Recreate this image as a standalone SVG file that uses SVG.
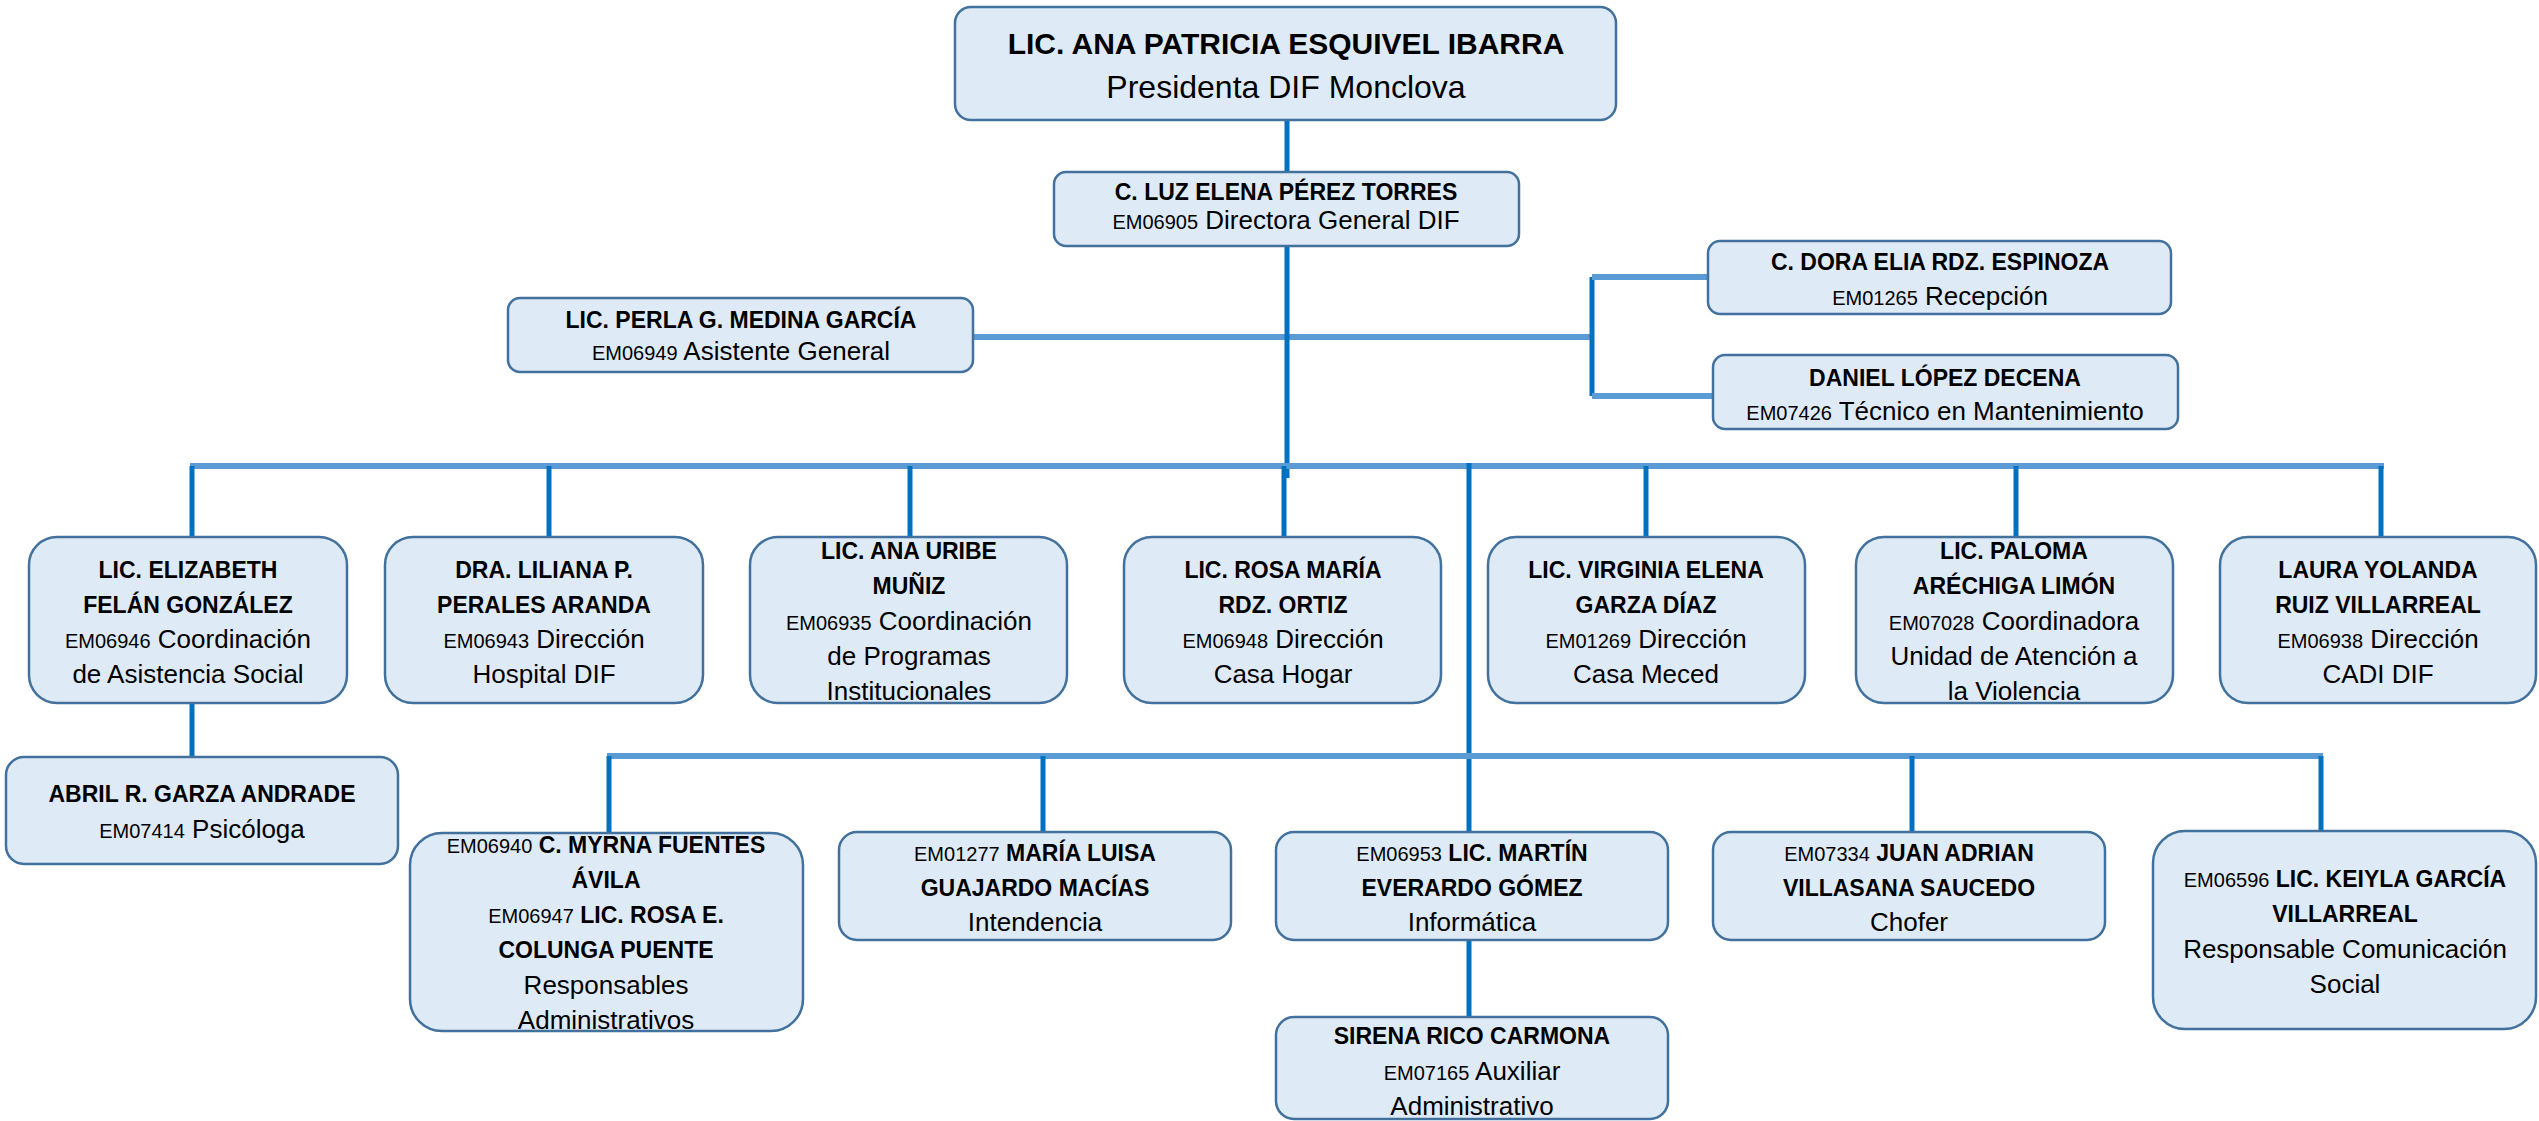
<svg xmlns="http://www.w3.org/2000/svg" width="2539" height="1121" viewBox="0 0 2539 1121">
<style>
.b{fill:#DEEAF6;stroke:#41719C;stroke-width:2.5}
text{font-family:"Liberation Sans",Arial,sans-serif;text-anchor:middle;fill:#000}
.n{font-weight:bold;font-size:23px}
.r{font-size:26px}
.c{font-size:20px;font-weight:normal}
.h{stroke:#5B9BD5;stroke-width:6;fill:none}
.v{stroke:#0070C0;stroke-width:5;fill:none}
</style>
<rect width="2539" height="1121" fill="#fff"/>
<g id="connectors">
<line class="v" x1="1287" y1="120" x2="1287" y2="172"/>
<line class="h" x1="973" y1="337" x2="1592" y2="337"/>
<line class="v" x1="1287" y1="246" x2="1287" y2="478"/>
<line class="v" x1="1592" y1="277" x2="1592" y2="396"/>
<line class="h" x1="1592" y1="277" x2="1708" y2="277"/>
<line class="h" x1="1592" y1="396" x2="1713" y2="396"/>
<line class="h" x1="190" y1="466" x2="2384" y2="466"/>
<line class="v" x1="192" y1="466" x2="192" y2="537"/>
<line class="v" x1="549" y1="466" x2="549" y2="537"/>
<line class="v" x1="910" y1="466" x2="910" y2="537"/>
<line class="v" x1="1284" y1="466" x2="1284" y2="537"/>
<line class="v" x1="1646" y1="466" x2="1646" y2="537"/>
<line class="v" x1="2016" y1="466" x2="2016" y2="537"/>
<line class="v" x1="2381" y1="466" x2="2381" y2="537"/>
<line class="v" x1="192" y1="703" x2="192" y2="757"/>
<line class="v" x1="1469" y1="463" x2="1469" y2="832"/>
<line class="h" x1="607" y1="756" x2="2323" y2="756"/>
<line class="v" x1="609" y1="756" x2="609" y2="832"/>
<line class="v" x1="1043" y1="756" x2="1043" y2="832"/>
<line class="v" x1="1912" y1="756" x2="1912" y2="832"/>
<line class="v" x1="2321" y1="756" x2="2321" y2="832"/>
<line class="v" x1="1469" y1="940" x2="1469" y2="1017"/>
</g>
<g id="presidenta">
<rect class="b" x="955" y="7" width="661" height="113" rx="16"/>
<text x="1286" y="54" style="font-weight:bold;font-size:30px">LIC. ANA PATRICIA ESQUIVEL IBARRA</text>
<text x="1286" y="98" style="font-size:32px">Presidenta DIF Monclova</text>
</g>
<g id="directora">
<rect class="b" x="1054" y="172" width="465" height="74" rx="12"/>
<text x="1286" y="200" class="n">C. LUZ ELENA PÉREZ TORRES</text>
<text x="1286" y="229" class="r"><tspan class="c">EM06905</tspan> Directora General DIF</text>
</g>
<g id="asistente">
<rect class="b" x="508" y="298" width="465" height="74" rx="12"/>
<text x="741" y="328" class="n">LIC. PERLA G. MEDINA GARCÍA</text>
<text x="741" y="360" class="r"><tspan class="c">EM06949</tspan> Asistente General</text>
</g>
<g id="recepcion">
<rect class="b" x="1708" y="241" width="463" height="73" rx="12"/>
<text x="1940" y="270" class="n">C. DORA ELIA RDZ. ESPINOZA</text>
<text x="1940" y="305" class="r"><tspan class="c">EM01265</tspan> Recepción</text>
</g>
<g id="mantenimiento">
<rect class="b" x="1713" y="355" width="465" height="74" rx="12"/>
<text x="1945" y="386" class="n">DANIEL LÓPEZ DECENA</text>
<text x="1945" y="420" class="r"><tspan class="c">EM07426</tspan> Técnico en Mantenimiento</text>
</g>
<g id="asistencia-social">
<rect class="b" x="29" y="537" width="318" height="166" rx="28"/>
<text x="188" y="578" class="n">LIC. ELIZABETH</text>
<text x="188" y="613" class="n">FELÁN GONZÁLEZ</text>
<text x="188" y="648" class="r"><tspan class="c">EM06946</tspan> Coordinación</text>
<text x="188" y="683" class="r">de Asistencia Social</text>
</g>
<g id="hospital">
<rect class="b" x="385" y="537" width="318" height="166" rx="28"/>
<text x="544" y="578" class="n">DRA. LILIANA P.</text>
<text x="544" y="613" class="n">PERALES ARANDA</text>
<text x="544" y="648" class="r"><tspan class="c">EM06943</tspan> Dirección</text>
<text x="544" y="683" class="r">Hospital DIF</text>
</g>
<g id="programas">
<rect class="b" x="750" y="537" width="317" height="166" rx="28"/>
<text x="909" y="559" class="n">LIC. ANA URIBE</text>
<text x="909" y="594" class="n">MUÑIZ</text>
<text x="909" y="630" class="r"><tspan class="c">EM06935</tspan> Coordinación</text>
<text x="909" y="665" class="r">de Programas</text>
<text x="909" y="700" class="r">Institucionales</text>
</g>
<g id="casa-hogar">
<rect class="b" x="1124" y="537" width="317" height="166" rx="28"/>
<text x="1283" y="578" class="n">LIC. ROSA MARÍA</text>
<text x="1283" y="613" class="n">RDZ. ORTIZ</text>
<text x="1283" y="648" class="r"><tspan class="c">EM06948</tspan> Dirección</text>
<text x="1283" y="683" class="r">Casa Hogar</text>
</g>
<g id="casa-meced">
<rect class="b" x="1488" y="537" width="317" height="166" rx="28"/>
<text x="1646" y="578" class="n">LIC. VIRGINIA ELENA</text>
<text x="1646" y="613" class="n">GARZA DÍAZ</text>
<text x="1646" y="648" class="r"><tspan class="c">EM01269</tspan> Dirección</text>
<text x="1646" y="683" class="r">Casa Meced</text>
</g>
<g id="violencia">
<rect class="b" x="1856" y="537" width="317" height="166" rx="28"/>
<text x="2014" y="559" class="n">LIC. PALOMA</text>
<text x="2014" y="594" class="n">ARÉCHIGA LIMÓN</text>
<text x="2014" y="630" class="r"><tspan class="c">EM07028</tspan> Coordinadora</text>
<text x="2014" y="665" class="r">Unidad de Atención a</text>
<text x="2014" y="700" class="r">la Violencia</text>
</g>
<g id="cadi">
<rect class="b" x="2220" y="537" width="316" height="166" rx="28"/>
<text x="2378" y="578" class="n">LAURA YOLANDA</text>
<text x="2378" y="613" class="n">RUIZ VILLARREAL</text>
<text x="2378" y="648" class="r"><tspan class="c">EM06938</tspan> Dirección</text>
<text x="2378" y="683" class="r">CADI DIF</text>
</g>
<g id="psicologa">
<rect class="b" x="6" y="757" width="392" height="107" rx="18"/>
<text x="202" y="802" class="n">ABRIL R. GARZA ANDRADE</text>
<text x="202" y="838" class="r"><tspan class="c">EM07414</tspan> Psicóloga</text>
</g>
<g id="administrativos">
<rect class="b" x="410" y="833" width="393" height="198" rx="32"/>
<text x="606" y="853" class="n"><tspan class="c">EM06940</tspan> C. MYRNA FUENTES</text>
<text x="606" y="888" class="n">ÁVILA</text>
<text x="606" y="923" class="n"><tspan class="c">EM06947</tspan> LIC. ROSA E.</text>
<text x="606" y="958" class="n">COLUNGA PUENTE</text>
<text x="606" y="994" class="r">Responsables</text>
<text x="606" y="1029" class="r">Administrativos</text>
</g>
<g id="intendencia">
<rect class="b" x="839" y="832" width="392" height="108" rx="18"/>
<text x="1035" y="861" class="n"><tspan class="c">EM01277</tspan> MARÍA LUISA</text>
<text x="1035" y="896" class="n">GUAJARDO MACÍAS</text>
<text x="1035" y="931" class="r">Intendencia</text>
</g>
<g id="informatica">
<rect class="b" x="1276" y="832" width="392" height="108" rx="18"/>
<text x="1472" y="861" class="n"><tspan class="c">EM06953</tspan> LIC. MARTÍN</text>
<text x="1472" y="896" class="n">EVERARDO GÓMEZ</text>
<text x="1472" y="931" class="r">Informática</text>
</g>
<g id="chofer">
<rect class="b" x="1713" y="832" width="392" height="108" rx="18"/>
<text x="1909" y="861" class="n"><tspan class="c">EM07334</tspan> JUAN ADRIAN</text>
<text x="1909" y="896" class="n">VILLASANA SAUCEDO</text>
<text x="1909" y="931" class="r">Chofer</text>
</g>
<g id="comunicacion">
<rect class="b" x="2153" y="831" width="383" height="198" rx="32"/>
<text x="2345" y="887" class="n"><tspan class="c">EM06596</tspan> LIC. KEIYLA GARCÍA</text>
<text x="2345" y="922" class="n">VILLARREAL</text>
<text x="2345" y="958" class="r">Responsable Comunicación</text>
<text x="2345" y="993" class="r">Social</text>
</g>
<g id="auxiliar">
<rect class="b" x="1276" y="1017" width="392" height="102" rx="18"/>
<text x="1472" y="1044" class="n">SIRENA RICO CARMONA</text>
<text x="1472" y="1080" class="r"><tspan class="c">EM07165</tspan> Auxiliar</text>
<text x="1472" y="1115" class="r">Administrativo</text>
</g>
</svg>
